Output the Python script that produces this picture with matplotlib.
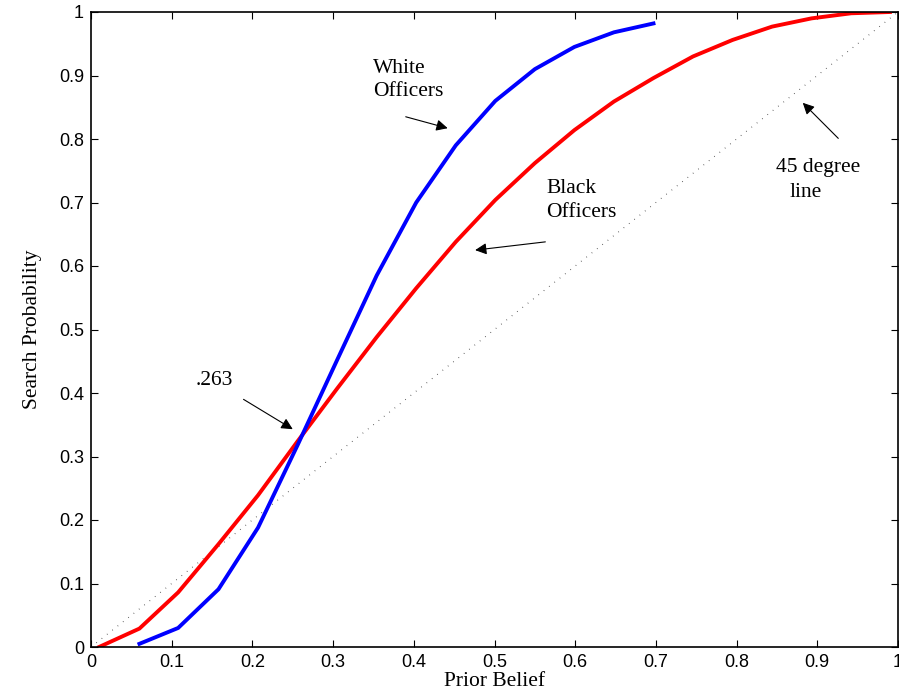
import numpy as np
import matplotlib
matplotlib.use("Agg")
import matplotlib.pyplot as plt

plt.rcParams['font.family'] = ['Liberation Sans', 'DejaVu Sans']

# -----------------------------------------------------------------
# Donnees
# -----------------------------------------------------------------
x_black = [0.010, 0.060, 0.108, 0.158, 0.207, 0.256, 0.305, 0.354, 0.403,
           0.452, 0.501, 0.550, 0.599, 0.648, 0.697, 0.746, 0.795, 0.844,
           0.893, 0.942, 0.990]
y_black = [0.000, 0.029, 0.086, 0.162, 0.239, 0.324, 0.407, 0.488, 0.565,
           0.638, 0.704, 0.762, 0.814, 0.859, 0.896, 0.930, 0.956, 0.977,
           0.990, 0.998, 1.000]

x_white = [0.060, 0.108, 0.158, 0.207, 0.256, 0.305, 0.354, 0.403, 0.452,
           0.501, 0.550, 0.599, 0.648, 0.697]
y_white = [0.005, 0.030, 0.091, 0.188, 0.318, 0.452, 0.585, 0.700, 0.790,
           0.860, 0.910, 0.945, 0.968, 0.982]

x_45 = [0.0, 1.0]
y_45 = [0.0, 1.0]

ticks = np.round(np.arange(0, 1.01, 0.1), 1)
tick_labels = ['0', '0.1', '0.2', '0.3', '0.4', '0.5', '0.6', '0.7', '0.8', '0.9', '1']

serif = ['Liberation Serif', 'DejaVu Serif']

fig = plt.figure(figsize=(8.99, 6.98), dpi=100)
ax = fig.add_axes([91 / 899, 51 / 698, 807 / 899, 635 / 698])

ax.plot(x_45, y_45, color='#333333', lw=0.8, linestyle=(0, (0.6, 5.5)))
ax.plot(x_black, y_black, color='red', lw=2.8, solid_joinstyle='miter')
ax.plot(x_white, y_white, color='blue', lw=2.8, solid_joinstyle='miter')

ax.set_xlim(0, 1)
ax.set_ylim(0, 1)
ax.set_xticks(ticks)
ax.set_xticklabels(tick_labels)
ax.set_yticks(ticks)
ax.set_yticklabels(tick_labels)
ax.tick_params(direction='in', length=5, width=0.8, labelsize=13,
               top=True, right=True, pad=5)
for s in ax.spines.values():
    s.set_linewidth(1.2)

ax.set_xlabel('Prior Belief', family=serif, fontsize=15.5, labelpad=1)
ax.set_ylabel('Search Probability', family=serif, fontsize=15.5, labelpad=12)

# annotations
txt = dict(family=serif, fontsize=15.5, ha='left', va='center', linespacing=1.32)
ax.text(0.349, 0.893, 'White\nOfficers', **txt)
ax.text(0.564, 0.703, 'Black\nOfficers', **txt)
ax.text(0.849, 0.755, '45 degree', **txt)
ax.text(0.865, 0.715, 'line', **txt)
ax.text(0.130, 0.419, '.263', **txt)

arr = dict(arrowstyle='-|>', color='k', lw=0.8, mutation_scale=17,
           shrinkA=0, shrinkB=0)
ax.annotate('', xy=(0.442, 0.817), xytext=(0.390, 0.835), arrowprops=arr)
ax.annotate('', xy=(0.476, 0.625), xytext=(0.563, 0.638), arrowprops=arr)
ax.annotate('', xy=(0.882, 0.857), xytext=(0.926, 0.801), arrowprops=arr)
ax.annotate('', xy=(0.250, 0.343), xytext=(0.189, 0.390), arrowprops=arr)

fig.savefig('out.png', dpi=100)
